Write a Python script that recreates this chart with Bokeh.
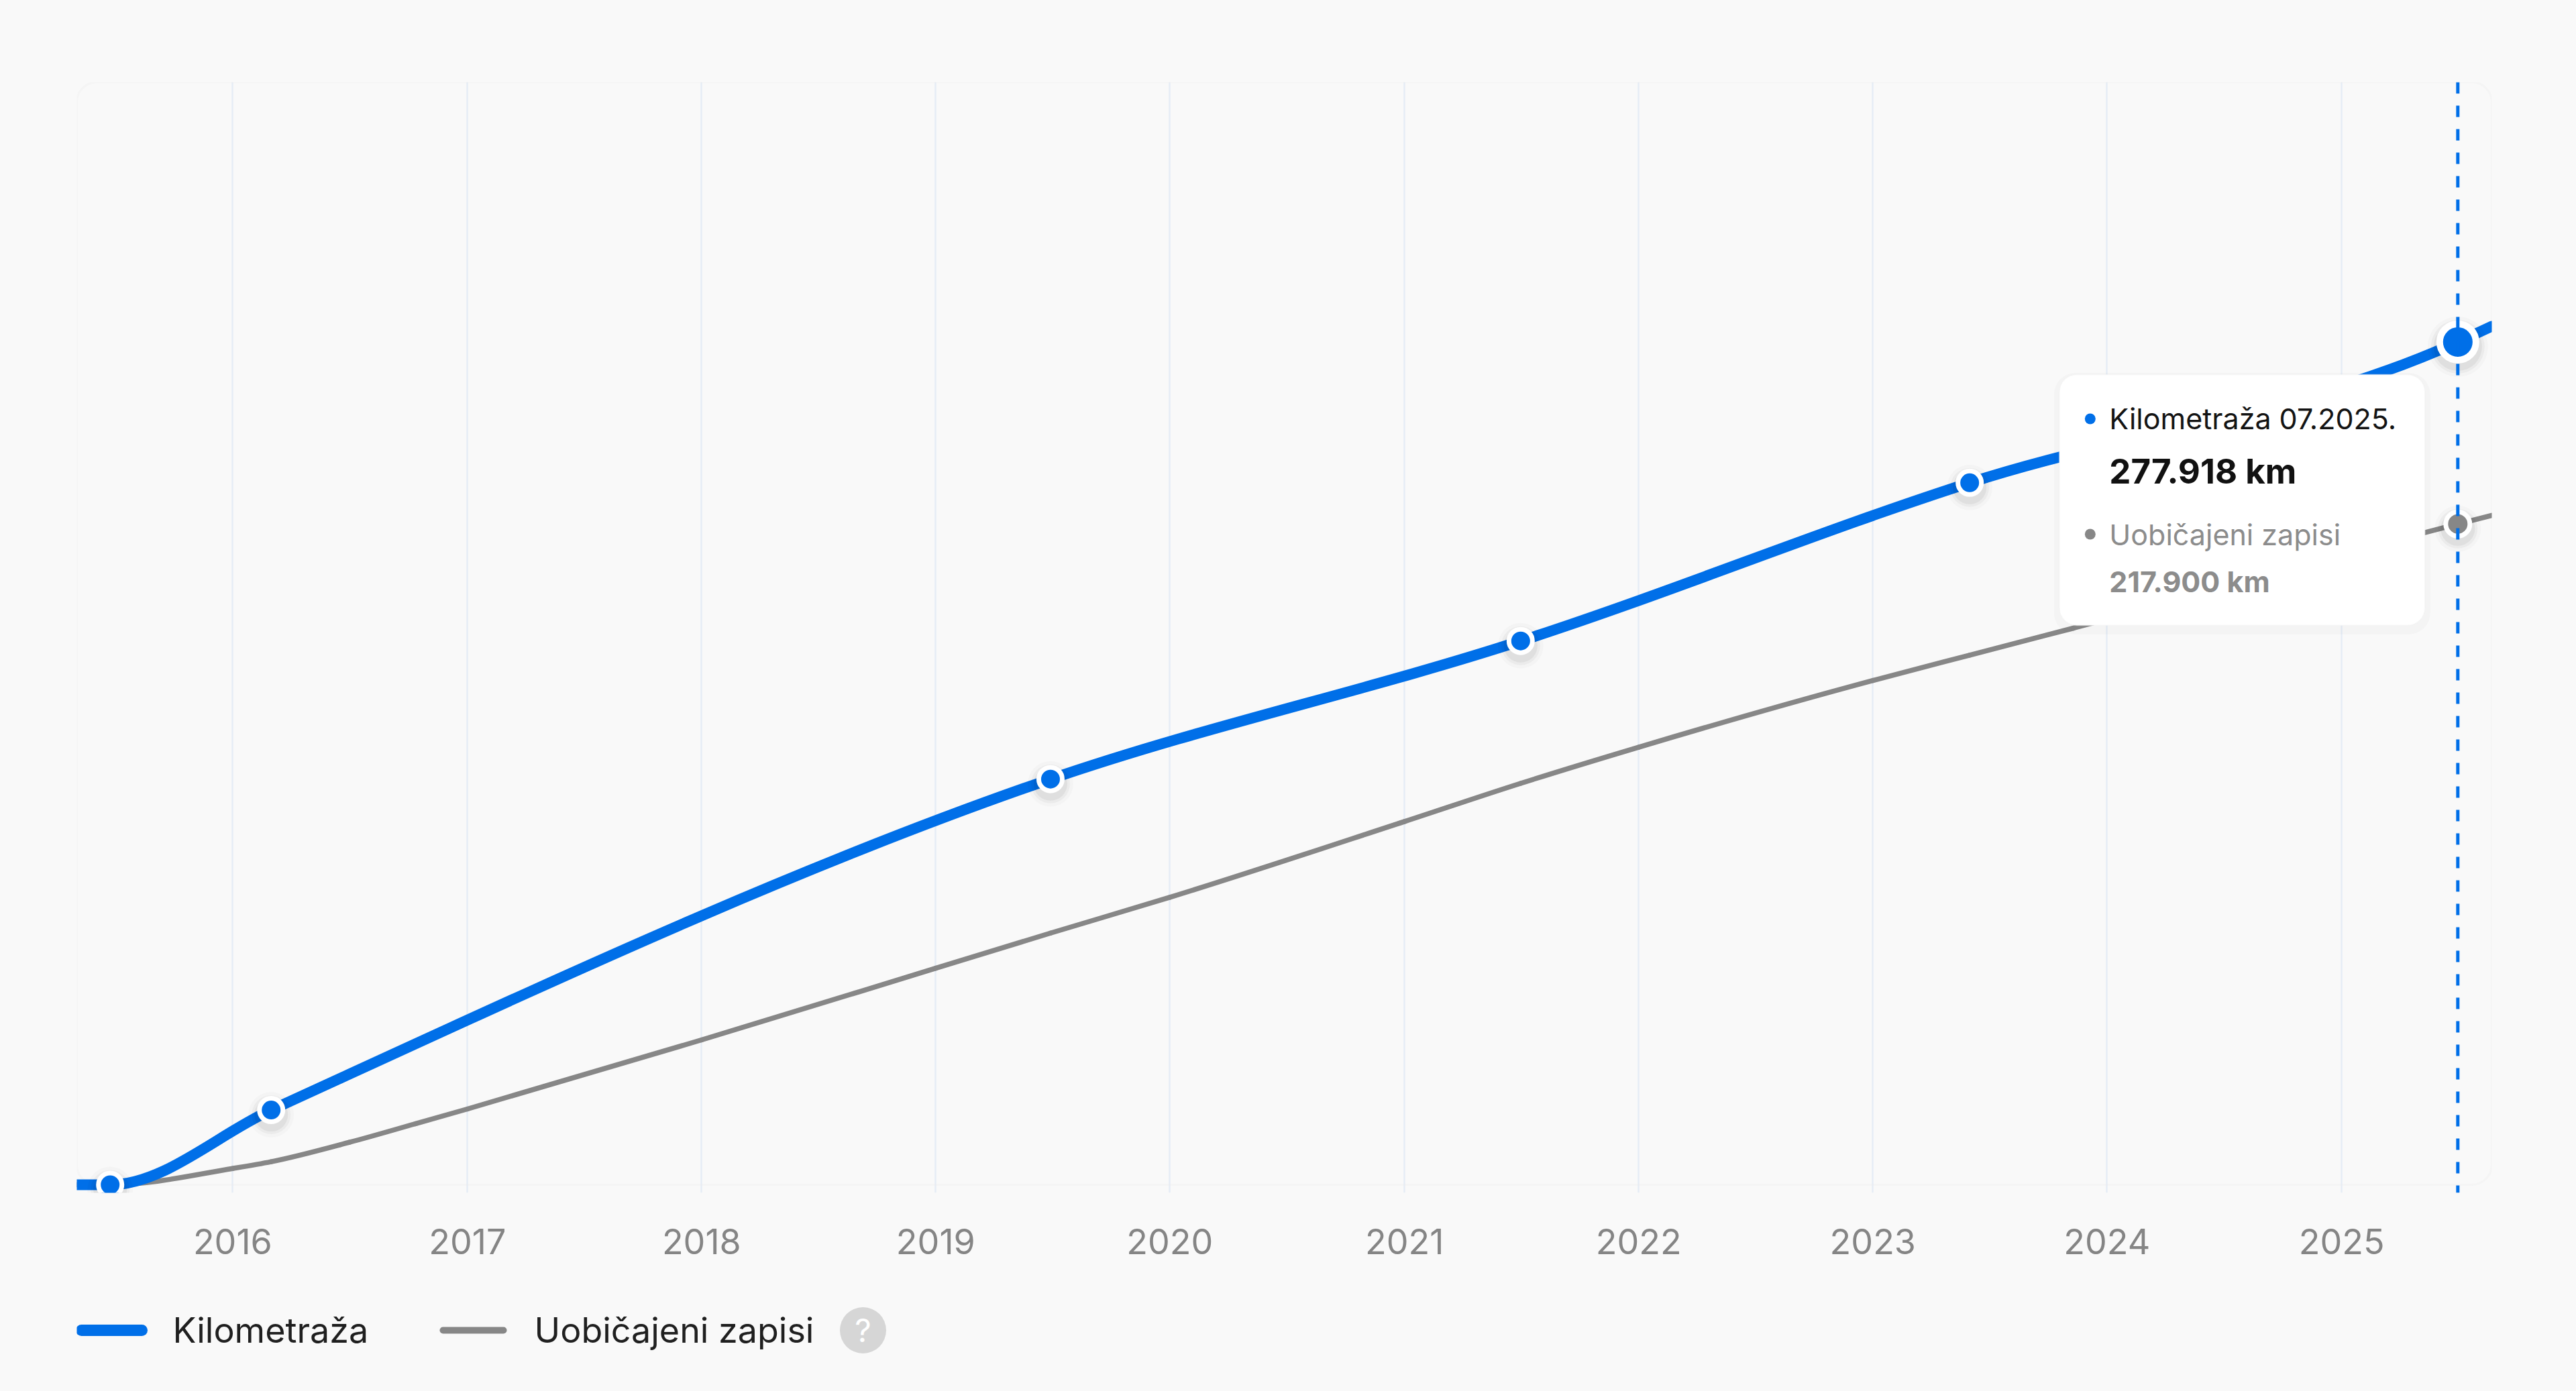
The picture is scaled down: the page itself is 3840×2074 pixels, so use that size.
import numpy as np
import pandas as pd
from bokeh.plotting import figure
from bokeh.layouts import column
from bokeh.models import (Range1d, DatetimeTickFormatter, FixedTicker, Span, BoxAnnotation,
                          ColumnDataSource, GlobalInlineStyleSheet)
from bokeh.core.properties import value
from bokeh.embed import file_html
from bokeh.resources import INLINE

# ---------------- data ----------------
series_names = ["Kilometraža", "Uobičajeni zapisi"]
unit = "km"

# recorded odometer readings (markers)
record_dates = ["2015-06-24", "2016-03-01", "2019-06-29", "2021-07-01", "2023-06-01", "2025-07-01"]
record_km = [0, 24650, 133770, 179330, 231510, 277918]
# the mileage line continues to both edges of the plot area
km_edge_dates = ["2015-05-03", "2025-08-23"]
km_edge_km = [0, 283110]

# typical ("usual records") mileage curve
typical_dates = ["2015-05-03", "2015-06-24", "2016-01-01", "2016-03-01", "2016-07-01", "2016-10-12",
                 "2017-01-01", "2018-01-01", "2019-01-01", "2019-06-29", "2020-01-01", "2021-01-01",
                 "2021-07-01", "2022-01-01", "2023-01-01", "2023-06-01", "2023-11-10", "2025-07-01",
                 "2025-08-23"]
typical_km = [0, 0, 5370, 7590, 14000, 20130, 24990, 47770, 71400, 83000, 94800, 119800,
              132380, 144300, 166300, 174670, 183580, 217900, 220740]

year_ticks = list(range(2016, 2026))
x_start_date, x_end_date = "2015-05-03", "2025-08-23"
y_top_km = 363620
hover_date = "2025-07-01"

# ---------------- style ----------------
BG = "#f9f9f9"
BLUE = "#006fe8"
GREY = "#878787"
FONT = "Inter"
series_colors = [BLUE, GREY]
key_widths = [17, 10]

PAGE_W = 3840
FRAME_W, FRAME_H, BELOW_ZERO_PX = 3600, 1656, 12
LEFT, TOP, BOTTOM = 114, 122, 140
RIGHT = PAGE_W - LEFT - FRAME_W
LEG_H = 150


def to_ms(d):
    return pd.Timestamp(d).value / 1e6


x0, x1 = to_ms(x_start_date), to_ms(x_end_date)
ms_per_px = (x1 - x0) / FRAME_W
km_per_px = y_top_km / (FRAME_H - BELOW_ZERO_PX)
y0 = -BELOW_ZERO_PX * km_per_px


def monotone_bezier(xs, ys):
    """Monotone cubic (d3 curveMonotoneX) segments through the data points."""
    xs = np.asarray(xs, float)
    ys = np.asarray(ys, float)
    n = len(xs)
    h = np.diff(xs)
    s = np.diff(ys) / h
    t = np.zeros(n)
    sgn = lambda v: -1.0 if v < 0 else 1.0
    for i in range(1, n - 1):
        pm = (s[i - 1] * h[i] + s[i] * h[i - 1]) / (h[i - 1] + h[i])
        t[i] = (sgn(s[i - 1]) + sgn(s[i])) * min(abs(s[i - 1]), abs(s[i]), 0.5 * abs(pm))
    t[0] = (3 * s[0] - t[1]) / 2
    t[-1] = (3 * s[-1] - t[-2]) / 2
    d = h / 3
    return dict(x0=xs[:-1], y0=ys[:-1], x1=xs[1:], y1=ys[1:],
                cx0=xs[:-1] + d, cy0=ys[:-1] + d * t[:-1],
                cx1=xs[1:] - d, cy1=ys[1:] - d * t[1:])


p = figure(x_axis_type="datetime", y_axis_location=None,
           frame_width=FRAME_W, frame_height=FRAME_H,
           min_border_left=LEFT, min_border_right=RIGHT,
           min_border_top=TOP, min_border_bottom=BOTTOM,
           x_range=Range1d(x0, x1), y_range=Range1d(y0, y_top_km),
           output_backend="svg", toolbar_location=None,
           background_fill_color=BG, border_fill_color=BG, outline_line_color=None)
p.stylesheets = [GlobalInlineStyleSheet(css="html, body { background-color: #f9f9f9; }")]

# axis / grid
p.xaxis.ticker = FixedTicker(ticks=[to_ms(f"{y}-01-01") for y in year_ticks])
p.xaxis.formatter = DatetimeTickFormatter(
    microseconds="%Y", milliseconds="%Y", seconds="%Y", minsec="%Y", minutes="%Y",
    hourmin="%Y", hours="%Y", days="%Y", months="%Y", years="%Y")
p.xaxis.axis_line_color = None
p.xaxis.major_tick_line_color = None
p.xaxis.minor_tick_line_color = None
p.xaxis.major_tick_out = 0
p.xaxis.major_tick_in = 0
p.xaxis.major_label_standoff = 53
p.xaxis.major_label_text_font = FONT
p.xaxis.major_label_text_font_size = "52px"
p.xaxis.major_label_text_color = "#858585"
p.xgrid.grid_line_color = "#e6edf6"
p.xgrid.grid_line_width = 2.5
p.ygrid.visible = False

# rounded plot-area border
p.add_layout(BoxAnnotation(left=x0, right=x1, bottom=0, top=y_top_km, fill_alpha=0,
                           line_color="#ececec", line_width=3, border_radius=30, level="underlay"))

# hover guide
hover_x = to_ms(hover_date)
p.add_layout(Span(location=hover_x, dimension="height", line_color=BLUE, line_width=5,
                  line_dash="17 18", level="glyph"))

# lines
typ_src = ColumnDataSource(monotone_bezier([to_ms(d) for d in typical_dates], typical_km))
grey_r = p.bezier(x0="x0", y0="y0", x1="x1", y1="y1", cx0="cx0", cy0="cy0", cx1="cx1", cy1="cy1",
                  source=typ_src, line_color=GREY, line_width=7.5, line_cap="round")

km_dates_all = [km_edge_dates[0]] + record_dates + [km_edge_dates[1]]
km_all = [km_edge_km[0]] + record_km + [km_edge_km[1]]
km_src = ColumnDataSource(monotone_bezier([to_ms(d) for d in km_dates_all], km_all))
blue_r = p.bezier(x0="x0", y0="y0", x1="x1", y1="y1", cx0="cx0", cy0="cy0", cx1="cx1", cy1="cy1",
                  source=km_src, line_color=BLUE, line_width=16, line_cap="round")

# markers (with soft shadows)
rec_x = np.array([to_ms(d) for d in record_dates])
rec_y = np.array(record_km, float)
hover_i = typical_dates.index(hover_date)
typ_hover = typical_km[hover_i]
sh = 7 * km_per_px
for grow, alpha in [(26, 0.02), (16, 0.035), (8, 0.05)]:
    p.scatter(rec_x[:-1], rec_y[:-1] - sh, size=42 + grow, fill_color="black", fill_alpha=alpha,
              line_color=None)
    p.scatter([rec_x[-1]], [rec_y[-1] - sh], size=64 + grow, fill_color="black", fill_alpha=alpha,
              line_color=None)
    p.scatter([hover_x], [typ_hover - sh], size=43 + grow, fill_color="black", fill_alpha=alpha,
              line_color=None)
p.scatter(rec_x[:-1], rec_y[:-1], size=35, fill_color=BLUE, line_color="white", line_width=7)
p.scatter([rec_x[-1]], [rec_y[-1]], size=54, fill_color=BLUE, line_color="white", line_width=10)
p.scatter([hover_x], [typ_hover], size=36, fill_color=GREY, line_color="white", line_width=7)

# tooltip (offsets in pixels from the hovered point)
hover_km = record_km[-1]


def ox(dx):
    return hover_x + dx * ms_per_px


def oy(dy_down):
    return hover_km - dy_down * km_per_px


p.add_layout(BoxAnnotation(left=ox(-602), right=ox(-41), top=oy(46), bottom=oy(436),
                           fill_color="black", fill_alpha=0.02, line_color=None,
                           border_radius=32, level="annotation"))
p.add_layout(BoxAnnotation(left=ox(-594), right=ox(-49), top=oy(48.5), bottom=oy(422.5),
                           fill_color="white", fill_alpha=1, line_color="#ededed", line_width=2,
                           border_radius=26, level="annotation"))


def fmt_km(v):
    return f"{v:,}".replace(",", ".") + " " + unit


month_label = pd.Timestamp(hover_date).strftime("%m.%Y.")
TXT_X = -519.5
p.scatter([ox(-548), ox(-548)], [oy(114.5), oy(286.5)], size=16, fill_color=series_colors,
          line_color=None, level="overlay")
p.text([ox(TXT_X)], [oy(114)], text=[f"{series_names[0]} {month_label}"],
       text_font=value(FONT), text_font_size="43px", text_color="#141414",
       text_baseline="alphabetic", level="overlay")
p.text([ox(TXT_X)], [oy(193)], text=[fmt_km(record_km[-1])],
       text_font=value(FONT), text_font_size="51px", text_font_style="bold", text_color="#111111",
       text_baseline="alphabetic", level="overlay")
p.text([ox(TXT_X)], [oy(287)], text=[series_names[1]],
       text_font=value(FONT), text_font_size="43px", text_color="#8c8c8c",
       text_baseline="alphabetic", level="overlay")
p.text([ox(TXT_X)], [oy(357)], text=[fmt_km(typ_hover)],
       text_font=value(FONT), text_font_size="43px", text_font_style="bold", text_color="#8c8c8c",
       text_baseline="alphabetic", level="overlay")

# ---------------- legend strip below the chart (coordinates = page pixels) ----------------
leg = figure(frame_width=FRAME_W, frame_height=LEG_H,
             min_border_left=LEFT, min_border_right=RIGHT, min_border_top=0, min_border_bottom=0,
             x_range=Range1d(LEFT, LEFT + FRAME_W), y_range=Range1d(0, LEG_H),
             x_axis_location=None, y_axis_location=None,
             output_backend="svg", toolbar_location=None,
             background_fill_color=BG, border_fill_color=BG, outline_line_color=None)
leg.grid.visible = False
KEY_Y = 85
key_x0 = [121, 660]
key_len = 90
label_gap = 46
for kx, col, lw in zip(key_x0, series_colors, key_widths):
    leg.segment(x0=[kx], y0=[KEY_Y], x1=[kx + key_len], y1=[KEY_Y], line_color=col,
                line_width=lw, line_cap="round")
leg.text([kx + key_len + label_gap for kx in key_x0], [KEY_Y] * 2, text=series_names,
         text_font=value(FONT), text_font_size="52px", text_color="#1f1f1f",
         text_baseline="middle")
# help icon next to the legend
leg.scatter([1286], [KEY_Y], size=69, fill_color="#d6d6d6", line_color=None)
leg.text([1286], [KEY_Y], text=["?"], text_font=value(FONT), text_font_size="48px",
         text_color="white", text_align="center", text_baseline="middle")

layout = column(p, leg, spacing=0)
open("out.html", "w").write(file_html(layout, INLINE))
